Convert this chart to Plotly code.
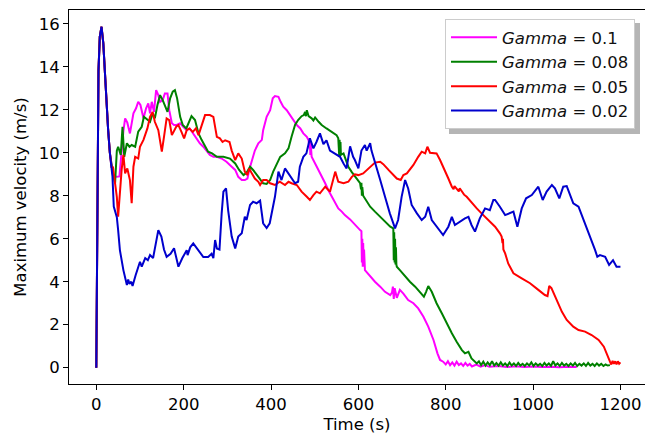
import plotly.graph_objects as go

# ---------------- data ----------------
t_start = [0, 3, 5, 8, 12, 16, 20, 24, 27, 31, 35]
v_start = [0, 12.5, 13.8, 15.4, 15.86, 15.1, 13.5, 12.3, 11.1, 10.0, 9.3]

t_g10 = t_start + [38, 43, 47, 53, 58, 62, 66, 71, 77, 85, 91, 96, 101, 108, 114, 119, 123, 127, 132, 137, 142, 146, 152, 157, 163, 167, 173, 178, 184, 192, 199, 207, 214, 222, 230, 237, 245, 253, 260, 268, 276, 287, 298, 310, 318, 325, 333, 340, 346, 350, 356, 363, 371, 379, 382, 390, 398, 404, 409, 417, 422, 428, 436, 444, 451, 459, 467, 474, 482, 486, 488, 489, 490, 491, 493, 501, 509, 516, 524, 531, 539, 547, 554, 562, 569, 581, 592, 604, 607, 608, 609, 610, 611, 612, 613, 615, 627, 638, 650, 661, 673, 677, 679, 681, 683, 686, 688, 695, 703, 714, 726, 737, 749, 760, 772, 781, 787, 794, 800, 805, 810, 815, 820, 825, 830, 835, 840, 845, 850, 855, 860, 870, 880, 890, 900, 920, 940, 960, 980, 1000, 1020, 1040, 1060, 1080, 1100]
v_g10 = v_start + [9.0, 8.9, 8.88, 8.9, 10.1, 11.0, 11.6, 11.4, 10.9, 11.83, 12.07, 12.37, 12.22, 11.6, 12.07, 12.3, 11.83, 12.37, 11.9, 12.91, 12.68, 12.37, 12.45, 12.76, 12.76, 11.98, 11.37, 11.29, 11.29, 11.37, 11.21, 11.05, 11.13, 10.9, 10.67, 10.44, 10.28, 10.05, 9.9, 9.81, 9.81, 9.73, 9.58, 9.35, 9.2, 8.88, 8.73, 8.73, 8.8, 9.2, 9.58, 10.1, 10.44, 10.6, 11.05, 11.67, 11.98, 12.53, 12.64, 12.6, 12.37, 12.14, 11.98, 11.75, 11.52, 11.29, 11.13, 10.9, 10.74, 10.58, 10.2, 10.6, 9.9, 10.4, 9.81, 9.5, 9.2, 8.88, 8.58, 8.27, 7.95, 7.65, 7.41, 7.26, 7.1, 6.9, 6.64, 6.4, 6.35, 4.9, 6.0, 4.7, 5.8, 4.8, 5.5, 4.54, 4.23, 4.0, 3.77, 3.53, 3.38, 3.5, 3.77, 3.2, 3.7, 3.3, 3.25, 3.62, 3.45, 3.15, 3.0, 2.76, 2.37, 1.91, 1.29, 0.67, 0.36, 0.28, 0.15, 0.3, 0.12, 0.25, 0.1, 0.28, 0.12, 0.2, 0.08, 0.22, 0.1, 0.18, 0.06, 0.15, 0.05, 0.12, 0.04, 0.08, 0.03, 0.07, 0.03, 0.06, 0.03, 0.05, 0.02, 0.05, 0.03]

t_g08 = t_start + [38, 43, 47, 50, 56, 60, 64, 70, 76, 81, 89, 96, 104, 109, 117, 123, 129, 134, 140, 146, 152, 158, 163, 169, 175, 180, 185, 192, 198, 206, 213, 218, 226, 234, 241, 249, 256, 265, 276, 291, 306, 318, 327, 337, 344, 352, 359, 371, 382, 390, 398, 405, 413, 421, 432, 440, 447, 455, 462, 470, 475, 478, 480, 482, 486, 493, 497, 501, 509, 516, 527, 539, 550, 554, 556, 557, 558, 559, 560, 566, 577, 585, 592, 600, 604, 606, 607, 608, 609, 611, 615, 627, 638, 650, 661, 673, 680, 681, 682, 683, 684, 685, 686, 687, 688, 695, 707, 718, 730, 741, 750, 755, 760, 768, 779, 791, 802, 814, 825, 837, 844, 852, 859, 866, 871, 876, 881, 886, 891, 896, 901, 906, 911, 916, 921, 926, 931, 936, 941, 946, 951, 956, 961, 966, 971, 976, 981, 986, 991, 996, 1001, 1006, 1011, 1016, 1021, 1026, 1031, 1036, 1041, 1046, 1051, 1056, 1061, 1066, 1071, 1076, 1081, 1086, 1091, 1096, 1101, 1106, 1111, 1116, 1121, 1126, 1131, 1136, 1141, 1146, 1151, 1156, 1161, 1166, 1171, 1176]
v_g08 = v_start + [9.0, 8.58, 10.1, 10.28, 9.9, 11.21, 9.81, 10.44, 10.28, 10.36, 10.28, 10.98, 11.21, 11.67, 11.52, 11.44, 11.83, 11.6, 12.22, 12.68, 12.45, 12.14, 11.9, 12.53, 12.84, 12.91, 12.53, 11.67, 11.29, 11.13, 11.52, 11.7, 11.52, 10.9, 10.6, 10.28, 10.05, 9.97, 9.81, 9.81, 9.73, 9.5, 9.2, 8.96, 9.07, 9.35, 9.2, 8.88, 8.58, 8.55, 8.73, 9.12, 9.5, 9.81, 9.97, 10.2, 10.74, 11.29, 11.52, 11.7, 11.75, 11.9, 11.7, 11.98, 11.7, 11.6, 11.5, 11.64, 11.44, 11.29, 11.13, 10.97, 10.82, 10.67, 9.9, 10.6, 9.8, 10.5, 9.9, 9.97, 9.35, 9.1, 8.9, 8.7, 8.58, 8.3, 8.6, 8.0, 8.4, 8.0, 7.88, 7.49, 7.26, 7.02, 6.79, 6.56, 6.48, 5.0, 6.3, 4.9, 6.0, 4.8, 5.6, 4.8, 4.7, 4.54, 4.23, 4.0, 3.77, 3.53, 3.3, 3.53, 3.8, 3.53, 3.0, 2.53, 2.06, 1.6, 1.21, 0.82, 0.67, 0.74, 0.43, 0.3, 0.2, 0.3, 0.12, 0.28, 0.1, 0.25, 0.12, 0.3, 0.1, 0.22, 0.1, 0.25, 0.1, 0.2, 0.08, 0.24, 0.1, 0.2, 0.08, 0.22, 0.1, 0.18, 0.08, 0.2, 0.1, 0.25, 0.08, 0.2, 0.1, 0.18, 0.08, 0.22, 0.1, 0.2, 0.08, 0.3, 0.1, 0.2, 0.08, 0.22, 0.1, 0.18, 0.08, 0.2, 0.1, 0.22, 0.08, 0.18, 0.1, 0.2, 0.08, 0.22, 0.1, 0.18, 0.08, 0.2, 0.1, 0.18, 0.08, 0.15, 0.1, 0.12]

t_g05 = t_start + [38, 43, 47, 50, 54, 58, 62, 66, 71, 77, 81, 85, 89, 96, 100, 108, 117, 123, 129, 134, 142, 150, 155, 161, 167, 173, 183, 188, 195, 201, 207, 213, 221, 228, 234, 241, 249, 260, 268, 276, 283, 289, 295, 305, 310, 318, 325, 333, 340, 346, 350, 356, 363, 371, 375, 382, 390, 398, 409, 420, 432, 440, 447, 459, 470, 482, 489, 497, 504, 512, 524, 535, 543, 547, 554, 566, 577, 585, 592, 600, 611, 627, 638, 650, 657, 669, 676, 688, 697, 703, 711, 718, 726, 737, 745, 753, 758, 764, 772, 779, 787, 798, 806, 814, 818, 820, 825, 830, 832, 837, 842, 848, 860, 871, 882, 894, 905, 913, 924, 928, 930, 931, 932, 936, 943, 955, 974, 993, 1012, 1027, 1033, 1037, 1042, 1054, 1066, 1077, 1092, 1104, 1119, 1134, 1150, 1162, 1169, 1176, 1179, 1182, 1185, 1188, 1191, 1194, 1197, 1200]
v_g05 = v_start + [9.35, 8.6, 7.95, 7.02, 8.27, 9.2, 9.9, 9.04, 9.27, 8.73, 7.65, 9.35, 9.81, 9.73, 10.28, 10.6, 11.13, 11.67, 11.9, 11.44, 11.05, 10.05, 10.74, 11.6, 11.52, 10.82, 11.21, 11.29, 10.97, 10.67, 11.05, 11.13, 10.97, 11.13, 10.82, 11.29, 11.75, 11.75, 11.67, 10.74, 10.67, 10.5, 10.58, 10.5, 10.1, 9.66, 9.97, 9.73, 9.12, 8.96, 9.27, 9.04, 8.8, 8.65, 8.5, 8.73, 8.73, 8.58, 8.5, 8.65, 8.5, 8.65, 8.58, 8.5, 8.19, 7.95, 7.8, 8.03, 8.19, 8.11, 8.42, 8.19, 8.8, 9.12, 8.65, 8.58, 8.65, 8.88, 9.0, 8.96, 9.04, 9.35, 9.54, 9.58, 9.47, 9.2, 9.04, 8.8, 8.73, 8.96, 9.04, 9.2, 9.43, 9.81, 10.05, 9.97, 10.28, 10.0, 9.97, 9.97, 9.66, 9.2, 8.8, 8.42, 8.3, 8.45, 8.34, 8.2, 8.35, 8.19, 8.05, 7.95, 7.65, 7.41, 7.18, 6.95, 6.72, 6.56, 6.25, 6.1, 5.8, 6.0, 5.5, 5.32, 4.85, 4.39, 4.16, 3.93, 3.62, 3.38, 3.33, 3.8, 3.7, 3.15, 2.6, 2.22, 1.91, 1.75, 1.68, 1.52, 1.29, 0.98, 0.59, 0.28, 0.15, 0.32, 0.18, 0.3, 0.15, 0.3, 0.18, 0.25]

t_g02 = t_start[:-2] + [31, 37, 40, 47, 50, 54, 62, 66, 70, 73, 76, 80, 83, 90, 100, 104, 112, 118, 123, 130, 138, 142, 149, 155, 161, 170, 178, 188, 197, 207, 209, 215, 222, 233, 245, 256, 264, 268, 272, 276, 282, 287, 291, 297, 302, 310, 318, 325, 333, 340, 344, 352, 359, 367, 375, 382, 390, 397, 402, 409, 417, 424, 432, 440, 447, 455, 462, 466, 474, 481, 489, 497, 504, 512, 520, 527, 535, 546, 558, 566, 573, 581, 588, 592, 600, 607, 615, 619, 627, 630, 640, 650, 661, 672, 684, 691, 699, 707, 714, 722, 734, 745, 753, 760, 768, 779, 794, 806, 814, 821, 832, 844, 852, 859, 867, 878, 890, 901, 909, 913, 924, 936, 955, 964, 974, 984, 997, 1012, 1022, 1031, 1043, 1050, 1060, 1069, 1077, 1088, 1092, 1104, 1119, 1130, 1142, 1147, 1153, 1165, 1174, 1183, 1191, 1200]
v_g02 = v_start[:-2] + [10.0, 8.9, 7.5, 7.0, 6.4, 5.47, 4.54, 4.1, 3.85, 4.1, 3.9, 4.0, 3.8, 4.3, 4.93, 4.7, 5.1, 5.0, 5.24, 5.1, 6.0, 6.4, 6.1, 5.5, 5.16, 5.3, 5.56, 4.7, 5.1, 5.47, 5.24, 5.6, 5.78, 5.47, 5.15, 5.15, 5.3, 5.1, 5.94, 5.55, 5.5, 7.18, 8.19, 8.34, 7.3, 6.1, 5.55, 6.1, 6.25, 7.02, 6.87, 7.57, 7.72, 7.65, 7.77, 6.72, 6.5, 6.72, 7.18, 7.95, 9.12, 8.73, 9.27, 9.04, 8.8, 8.58, 8.65, 9.35, 9.81, 9.97, 10.67, 10.2, 10.5, 10.9, 10.4, 10.58, 10.1, 9.97, 9.81, 9.5, 9.27, 10.3, 9.81, 9.66, 9.27, 10.1, 10.36, 10.1, 10.44, 10.1, 9.35, 8.73, 7.95, 7.18, 6.48, 6.87, 7.95, 8.73, 8.34, 7.57, 7.18, 6.87, 7.02, 7.49, 6.87, 6.56, 6.17, 6.56, 7.02, 6.64, 6.79, 6.95, 7.02, 6.64, 6.33, 6.95, 7.41, 7.33, 7.8, 7.8, 7.49, 7.1, 7.26, 6.56, 7.41, 7.88, 8.03, 8.42, 7.8, 8.19, 8.5, 8.34, 7.88, 8.42, 8.45, 7.8, 7.65, 7.49, 6.72, 6.17, 5.47, 5.16, 5.24, 5.16, 4.78, 5.0, 4.7, 4.7]

series_names = ["<i>Gamma</i> = 0.1", "<i>Gamma</i> = 0.08", "<i>Gamma</i> = 0.05", "<i>Gamma</i> = 0.02"]
series_colors = ["#ff00ff", "#008000", "#ff0000", "#0000cd"]
x_ticks = [0, 200, 400, 600, 800, 1000, 1200]
y_ticks = [0, 2, 4, 6, 8, 10, 12, 14, 16]

# ---------------- figure ----------------
W, H = 645, 435
ML, MR, MT, MB = 69, 0, 10, 51
PW, PH = W - ML - MR, H - MT - MB

def px2paper(px, py):
    return (px - ML) / PW, (H - MB - py) / PH

fig = go.Figure()
for i, (tx, vy) in enumerate([(t_g10, v_g10), (t_g08, v_g08), (t_g05, v_g05), (t_g02, v_g02)]):
    fig.add_trace(go.Scatter(x=tx, y=vy, mode="lines", name=series_names[i],
                             line=dict(color=series_colors[i], width=2)))

# legend shadow
sx0, sy0 = px2paper(449, 23)
sx1, sy1 = px2paper(640, 134)
fig.add_shape(type="rect", xref="paper", yref="paper", x0=sx0, y0=sy1, x1=sx1, y1=sy0,
              fillcolor="rgba(120,120,120,0.55)", line=dict(width=0), layer="above")

lx, ly = px2paper(635, 19)
font = dict(family="DejaVu Sans", size=16.5, color="black")
fig.update_layout(
    template="none",
    width=W, height=H,
    margin=dict(l=ML, r=MR, t=MT, b=MB, pad=0),
    paper_bgcolor="white", plot_bgcolor="white",
    font=font,
    showlegend=True,
    legend=dict(x=lx, y=ly, xanchor="right", yanchor="top",
                bgcolor="white", bordercolor="#cccccc", borderwidth=1,
                font=dict(family="DejaVu Sans", size=16.5, color="#111111"),
                itemwidth=46),
    xaxis=dict(range=[-62.5, 1256.2], tickvals=x_ticks, ticks="outside", ticklen=5,
               tickcolor="black", tickwidth=1, showline=True, linecolor="black", linewidth=1,
               mirror=True, showgrid=False, zeroline=False, automargin=False,
               tickfont=font,
               title=dict(text="Time (s)", standoff=5, font=font)),
    yaxis=dict(range=[-0.758, 16.64], tickvals=y_ticks, ticks="outside", ticklen=5,
               tickcolor="black", tickwidth=1, showline=True, linecolor="black", linewidth=1,
               mirror=False, showgrid=False, zeroline=False, automargin=False,
               tickfont=font,
               title=dict(text="Maximum velocity (m/s)", standoff=7, font=font)),
)
fig.write_html("out.html")
